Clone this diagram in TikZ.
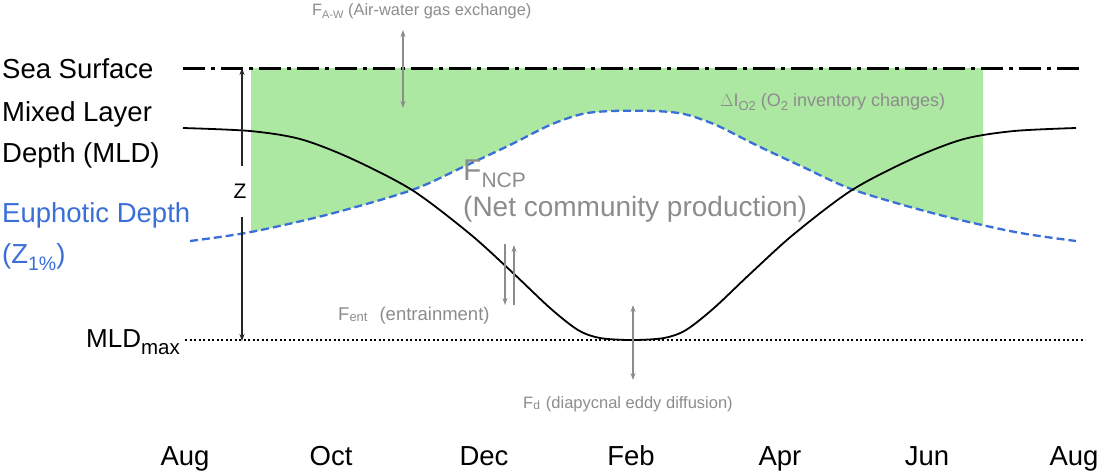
\documentclass[tikz,border=0pt]{standalone}
\usepackage{fontspec}
\setmainfont{Liberation Sans}
\usetikzlibrary{arrows.meta}
\definecolor{fillgreen}{HTML}{ADE8A2}
\definecolor{eublue}{HTML}{3A6FD8}
\definecolor{txtgray}{HTML}{8C8C8C}
\newcommand\lowsub[3]{\raisebox{-#1pt}{\fontsize{#2}{#2}\selectfont #3}}
\newcommand\fsz[1]{\fontsize{#1}{#1}\selectfont}
\begin{document}
\begin{tikzpicture}[x=1pt,y=-1pt,
  lbl/.style={inner sep=0pt, anchor=base west, font=\fsz{27.5}},
  month/.style={inner sep=0pt, anchor=base, font=\fsz{27.5}},
  flux/.style={inner sep=0pt, anchor=base west, text=txtgray},
  surfline/.style={line width=3pt, dash pattern=on 22pt off 6pt on 4pt off 6pt},
  maxline/.style={line width=2.5pt, dash pattern=on 2pt off 2.5pt},
  eucurve/.style={eublue, line width=2.3pt, dash pattern=on 8pt off 4pt},
  mldcurve/.style={black, line width=1.8pt},
  zarrow/.style={-{Stealth[length=7pt,width=5pt]}, line width=1.1pt, black!85},
  grayarrow/.style={-{Stealth[length=7pt,width=5pt]}, line width=1.6pt, txtgray},
  grayboth/.style={{Stealth[length=7pt,width=5pt]}-{Stealth[length=7pt,width=5pt]}, line width=1.6pt, txtgray}
]
\useasboundingbox (0,0) rectangle (1099,475);
\def\eupts{(190,241) (251,232) (330,214) (412,190) (463,167) (510,145) (550,125) (582,114) (612,111) (654,111) (684,114) (716,125) (756,145) (803,167) (854,190) (936,214) (1015,232) (1076,241)}

% green area (O2 inventory region)
\begin{scope}
  \clip (251,68) rectangle (983,475);
  \fill[fillgreen] (190,60) -- plot[smooth] coordinates {\eupts} -- (1076,60) -- cycle;
\end{scope}

% reference lines
\coordinate (ssL) at (183,68);
\coordinate (ssR) at (1083,68);
\draw[surfline] (ssL) -- (ssR);
\coordinate (mxL) at (185,340);
\coordinate (mxR) at (1085,340);
\draw[maxline] (mxL) -- (mxR);

% euphotic depth curve
\draw[eucurve] plot[smooth] coordinates {\eupts};

% mixed layer depth curve
\draw[mldcurve] plot[smooth] coordinates {(183,128) (250,131) (300,139) (350,158) (412,190) (470,234) (513,273) (550,308) (578,330) (600,338) (632,340) (664,338) (686,330) (714,308) (751,273) (794,234) (852,190) (914,158) (964,139) (1014,131) (1076,128)};

% Z arrows
\node[inner sep=0pt, anchor=base, font=\fsz{21}] (z) at (240,198) {Z};
\coordinate (zTop) at (242,68);
\coordinate (zUp) at (242,166);
\coordinate (zDn) at (242,217);
\coordinate (zBot) at (242,341);
\draw[zarrow] (zUp) -- (zTop);
\draw[zarrow] (zDn) -- (zBot);

% left labels
\node[lbl] (ss) at (2,78) {Sea Surface};
\node[lbl] (mld1) at (2,121) {Mixed Layer};
\node[lbl] (mld2) at (2,162) {Depth (MLD)};
\node[lbl, text=eublue] (eu1) at (2,222) {Euphotic Depth};
\node[lbl, text=eublue] (eu2) at (2,263) {(Z\lowsub{7}{19.5}{1\%})};
\node[lbl, font=\fsz{26}] (mldmax) at (86,347) {MLD\lowsub{7}{20.5}{max}};

% flux labels
\node[flux, font=\fsz{16.4}] (faw) at (312,15) {F\lowsub{3}{11}{A-W} (Air-water gas exchange)};
\node[flux, font=\fsz{18}] (dio) at (720,106) {$\Delta$I\lowsub{4}{13}{O2} (O\lowsub{4}{13}{2} inventory changes)};
\node[flux, font=\fsz{30}] (fncp) at (463,180) {F\lowsub{7}{21}{NCP}};
\node[flux, font=\fsz{28}] (ncp) at (463,216) {(Net community production)};
\node[flux, font=\fsz{18.5}] (fent) at (338,320) {F\lowsub{1}{13}{ent}\hspace{12pt}(entrainment)};
\node[flux, font=\fsz{16.5}] (fd) at (523,408) {F\lowsub{1}{12}{d}\hspace{6pt}(diapycnal eddy diffusion)};

% flux arrows
\coordinate (awT) at (403,30);
\coordinate (awB) at (403,108);
\draw[grayboth] (awT) -- (awB);
\coordinate (e1T) at (505,244);
\coordinate (e1B) at (505,305);
\draw[grayarrow] (e1T) -- (e1B);
\coordinate (e2B) at (514,305);
\coordinate (e2T) at (514,245);
\draw[grayarrow] (e2B) -- (e2T);
\coordinate (fdT) at (633,305);
\coordinate (fdB) at (633,380);
\draw[grayboth] (fdT) -- (fdB);

% months
\node[month] (m1) at (185,465) {Aug};
\node[month] (m2) at (331,465) {Oct};
\node[month] (m3) at (484,465) {Dec};
\node[month] (m4) at (631,465) {Feb};
\node[month] (m5) at (780,465) {Apr};
\node[month] (m6) at (927,465) {Jun};
\node[month] (m7) at (1074,465) {Aug};
\end{tikzpicture}
\end{document}
